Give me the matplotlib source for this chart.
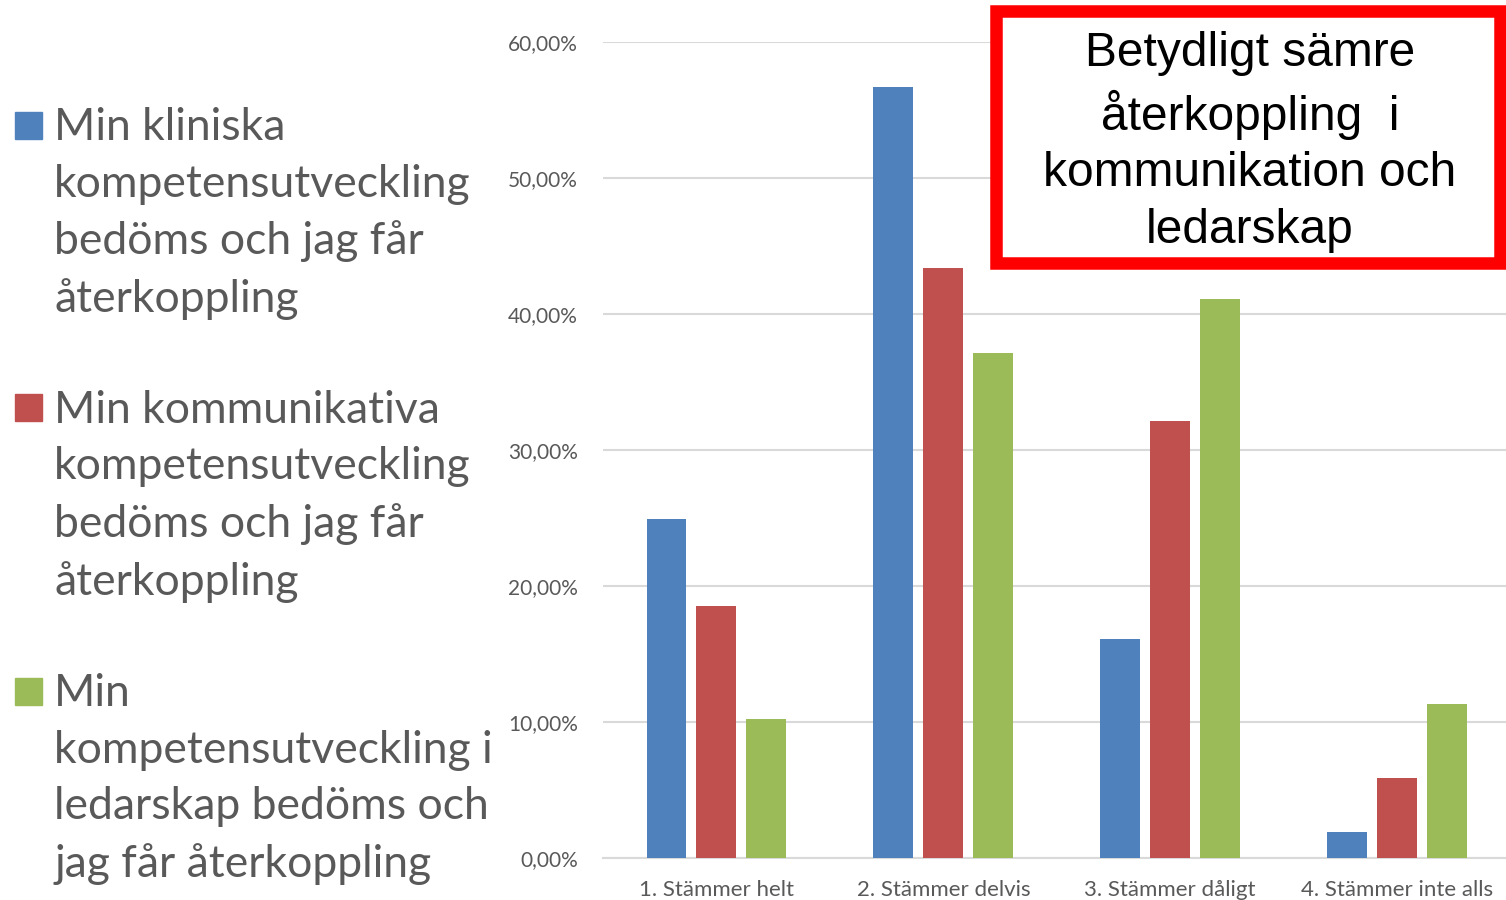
import numpy as np
import matplotlib.pyplot as plt
from matplotlib.patches import Rectangle
from matplotlib.ticker import FuncFormatter

categories = ["1. Stämmer helt", "2. Stämmer delvis", "3. Stämmer dåligt", "4. Stämmer inte alls"]
series_names = [
    "Min kliniska\nkompetensutveckling\nbedöms och jag får\nåterkoppling",
    "Min kommunikativa\nkompetensutveckling\nbedöms och jag får\nåterkoppling",
    "Min\nkompetensutveckling i\nledarskap bedöms och\njag får återkoppling",
]
klinisk = [24.9, 56.7, 16.1, 1.9]
kommunikativ = [18.5, 43.4, 32.1, 5.9]
ledarskap = [10.2, 37.1, 41.1, 11.3]
colors = ["#4F81BD", "#C0504D", "#9BBB59"]
yticks = [0, 10, 20, 30, 40, 50, 60]

fig = plt.figure(figsize=(15.06, 9), dpi=100)
ax = fig.add_axes([0.4004, 0.0467, 0.5996, 0.9066])

x = np.arange(len(categories))
width = 0.176
step = 0.22
for i, vals in enumerate([klinisk, kommunikativ, ledarskap]):
    ax.bar(x + (i - 1) * step, vals, width, color=colors[i], zorder=3)

ax.set_xlim(-0.5, 3.48)
ax.set_ylim(0, 60)
ax.set_yticks(yticks)
ax.yaxis.set_major_formatter(FuncFormatter(lambda v, p: f"{v:.2f}%".replace(".", ",")))
ax.grid(axis="y", color="#D9D9D9", linewidth=1.5, zorder=0)
for s in ["top", "right", "left"]:
    ax.spines[s].set_visible(False)
ax.spines["bottom"].set_color("#D9D9D9")
ax.spines["bottom"].set_linewidth(1.5)
ax.tick_params(length=0, labelcolor="#595959")
ax.tick_params(axis="y", labelsize=15, pad=18)
ax.tick_params(axis="x", labelsize=16, pad=16)
ax.set_xticks(x)
ax.set_xticklabels(categories, fontfamily="Lato")
for lab in ax.get_yticklabels():
    lab.set_fontfamily("Lato")

# legend drawn by hand: square next to first line of each label
ly = [0.8611, 0.5467, 0.2322]
for name, c, y in zip(series_names, colors, ly):
    fig.patches.append(Rectangle((0.010, y - 0.015), 0.018, 0.03, transform=fig.transFigure,
                                 color=c))
    fig.text(0.036, y + 0.020, name, fontsize=32, fontfamily="Lato", color="#595959",
             va="top", ha="left", linespacing=1.47)

# annotation box
fig.patches.append(Rectangle((0.6614, 0.7075), 0.3345, 0.28, transform=fig.transFigure,
                             facecolor="white", edgecolor="#FF0000", linewidth=9, zorder=5))
fig.text(0.83, 0.842, "Betydligt sämre\nåterkoppling  i\nkommunikation och\nledarskap",
         fontsize=34.5, fontfamily="Liberation Sans", color="black", ha="center", va="center",
         linespacing=1.33, zorder=6)

fig.savefig("out.png", dpi=100)
